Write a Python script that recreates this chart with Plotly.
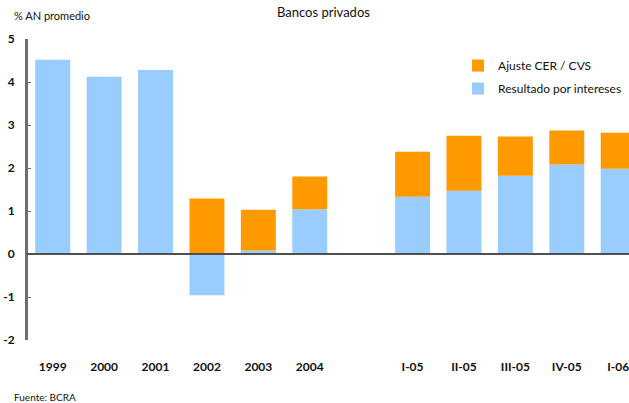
import plotly.graph_objects as go

# Periods (a blank slot separates the annual and quarterly blocks)
periods = ["1999", "2000", "2001", "2002", "2003", "2004", " ",
           "I-05", "II-05", "III-05", "IV-05", "I-06"]
resultado_intereses = [4.52, 4.12, 4.28, -0.96, 0.08, 1.04, None,
                       1.33, 1.47, 1.82, 2.08, 1.98]
ajuste_cer_cvs = [None, None, None, 1.29, 0.95, 0.76, None,
                  1.05, 1.28, 0.91, 0.79, 0.84]
y_ticks = [-2, -1, 0, 1, 2, 3, 4, 5]

FONT = "Lato"
BLUE = "#99CCFF"
ORANGE = "#FF9900"
AXIS_GREY = "#6e6e6e"

fig = go.Figure()
fig.add_trace(go.Bar(x=periods, y=resultado_intereses, name="Resultado por intereses",
                     legendgroup="int", legendrank=2, width=0.68,
                     marker=dict(color=BLUE, line=dict(width=0))))
fig.add_trace(go.Bar(x=periods, y=ajuste_cer_cvs, name="Ajuste CER / CVS",
                     legendgroup="cer", legendrank=1, width=0.68,
                     marker=dict(color=ORANGE, line=dict(width=0))))

fig.update_layout(
    width=629, height=403,
    margin=dict(l=27, r=0, t=39, b=63, autoexpand=False),
    paper_bgcolor="white", plot_bgcolor="white",
    barmode="relative",
    showlegend=True,
    legend=dict(x=0.716, y=0.96, xanchor="left", yanchor="top",
                traceorder="grouped", tracegroupgap=4,
                bgcolor="rgba(0,0,0,0)",
                font=dict(family=FONT, size=12, color="#111"),
                itemwidth=30),
    font=dict(family=FONT, color="#111"),
)

fig.update_xaxes(
    type="category", categoryorder="array", categoryarray=periods,
    range=[-0.5, 11.21], automargin=False,
    showgrid=False, showline=False, zeroline=False, ticks="",
    tickfont=dict(family=FONT, size=12, color="#111", weight="bold"),
    ticklabelstandoff=18,
)
fig.update_yaxes(
    range=[-2, 5], tickvals=y_ticks, ticktext=[str(v) for v in y_ticks],
    automargin=False,
    showgrid=False, showline=True, linecolor=AXIS_GREY, linewidth=2,
    ticks="inside", ticklen=4, tickcolor=AXIS_GREY, tickwidth=1,
    zeroline=False, layer="above traces",
    tickfont=dict(family=FONT, size=12, color="#111", weight="bold"),
    ticklabelstandoff=8,
)

# Vertical axis rule along the left edge of the plot
fig.add_shape(type="line", xref="paper", yref="y", x0=0, x1=0, y0=-2, y1=5,
              line=dict(color=AXIS_GREY, width=2), layer="above")
# Baseline at zero drawn over the bars
fig.add_hline(y=0, line=dict(color="#505050", width=2), layer="above")

fig.add_annotation(text="Bancos privados", xref="paper", yref="paper",
                   x=(323 - 27) / 602, y=1, yshift=27, xanchor="center", yanchor="middle",
                   showarrow=False, font=dict(family=FONT, size=13, color="#111"))
fig.add_annotation(text="% AN promedio", xref="paper", yref="paper",
                   x=-15 / 602, y=1, yshift=24, xanchor="left", yanchor="middle",
                   showarrow=False, font=dict(family=FONT, size=11, color="#111"))
fig.add_annotation(text="Fuente: BCRA", xref="paper", yref="paper",
                   x=-15 / 602, y=0, yshift=-57, xanchor="left", yanchor="middle",
                   showarrow=False, font=dict(family=FONT, size=10, color="#111"))

fig.write_html("out.html")
